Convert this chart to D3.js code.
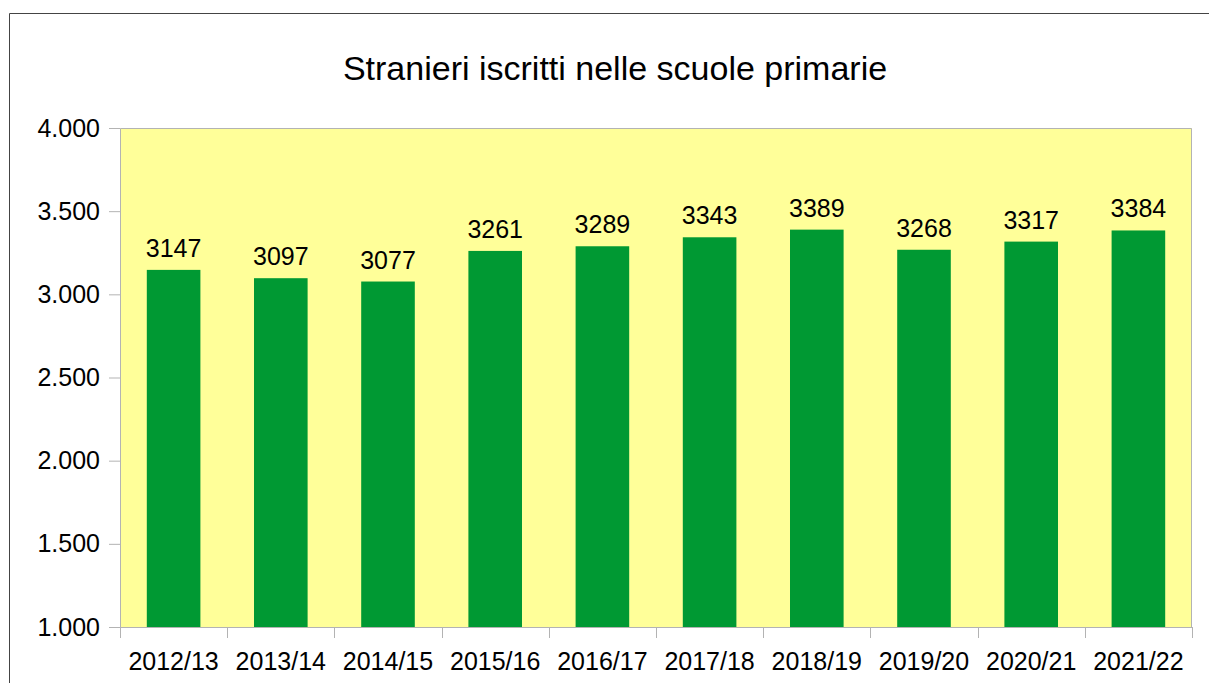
<!DOCTYPE html>
<html>
<head>
<meta charset="utf-8">
<script src="https://cdn.jsdelivr.net/npm/d3@7"></script>
<style>
  body { margin: 0; background: #fff; }
  text { font-family: "Liberation Sans", Arial, sans-serif; fill: #000; }
</style>
</head>
<body>
<div id="chart"></div>
<script>
// data
var years = ["2012/13", "2013/14", "2014/15", "2015/16", "2016/17", "2017/18", "2018/19", "2019/20", "2020/21", "2021/22"];
var students = [3147, 3097, 3077, 3261, 3289, 3343, 3389, 3268, 3317, 3384];
var yTicks = [1000, 1500, 2000, 2500, 3000, 3500, 4000];
var title = "Stranieri iscritti nelle scuole primarie";

var W = 1209, H = 683;
var margin = { top: 128, right: 17, bottom: 56, left: 120 },
    width = 1192 - margin.left,
    height = 627 - margin.top;

var svg = d3.select("#chart").append("svg")
    .attr("width", W)
    .attr("height", H);

// outer frame (left + top)
svg.append("path")
    .attr("d", "M9.5," + H + "V13.5H" + W)
    .attr("fill", "none")
    .attr("stroke", "#444")
    .attr("stroke-width", 1);

svg.append("text")
    .attr("x", 615)
    .attr("y", 80)
    .attr("text-anchor", "middle")
    .style("font-size", "34px")
    .text(title);

var g = svg.append("g")
    .attr("transform", "translate(" + margin.left + "," + margin.top + ")");

var x = d3.scaleBand()
    .domain(years)
    .range([0, width])
    .paddingInner(0.5)
    .paddingOuter(0.25);

var y = d3.scaleLinear()
    .domain([1000, 4000])
    .range([height, 0]);

// plot background
g.append("rect")
    .attr("width", width)
    .attr("height", height)
    .attr("fill", "#ffff99");

// plot border
g.append("path")
    .attr("d", "M0.5," + height + "V0.5H" + (width - 0.5) + "V" + height)
    .attr("fill", "none")
    .attr("stroke", "#b3b3b3");

// bars
g.selectAll(".bar")
    .data(students)
    .enter().append("rect")
    .attr("class", "bar")
    .attr("x", function(d, i) { return x(years[i]); })
    .attr("width", x.bandwidth())
    .attr("y", function(d) { return y(d); })
    .attr("height", function(d) { return height - y(d); })
    .attr("fill", "#009933");

// value labels
g.selectAll(".lbl")
    .data(students)
    .enter().append("text")
    .attr("class", "lbl")
    .attr("x", function(d, i) { return x(years[i]) + x.bandwidth() / 2; })
    .attr("y", function(d) { return y(d) - 13; })
    .attr("text-anchor", "middle")
    .style("font-size", "25px")
    .text(function(d) { return d; });

// y axis
var yAxis = d3.axisLeft(y)
    .tickValues(yTicks)
    .tickSize(11)
    .tickPadding(9)
    .tickFormat(function(d) { return d3.format(",")(d).replace(",", "."); });

var ya = g.append("g").call(yAxis);
ya.select(".domain").remove();
ya.selectAll("line").attr("stroke", "#b3b3b3");
ya.selectAll("text").style("font-size", "25px").attr("font-family", null);

// x axis
var bandStep = width / years.length;
var xa = g.append("g").attr("transform", "translate(0," + height + ")");
xa.append("line")
    .attr("x1", 0).attr("x2", width)
    .attr("y1", 0.5).attr("y2", 0.5)
    .attr("stroke", "#b3b3b3");
xa.selectAll(".xtick")
    .data(d3.range(years.length + 1))
    .enter().append("line")
    .attr("x1", function(i) { return Math.round(i * bandStep) + 0.5; })
    .attr("x2", function(i) { return Math.round(i * bandStep) + 0.5; })
    .attr("y1", 0).attr("y2", 11)
    .attr("stroke", "#b3b3b3");
xa.selectAll(".xlbl")
    .data(years)
    .enter().append("text")
    .attr("x", function(d) { return x(d) + x.bandwidth() / 2; })
    .attr("y", 43)
    .attr("text-anchor", "middle")
    .style("font-size", "25px")
    .text(function(d) { return d; });
</script>
</body>
</html>
